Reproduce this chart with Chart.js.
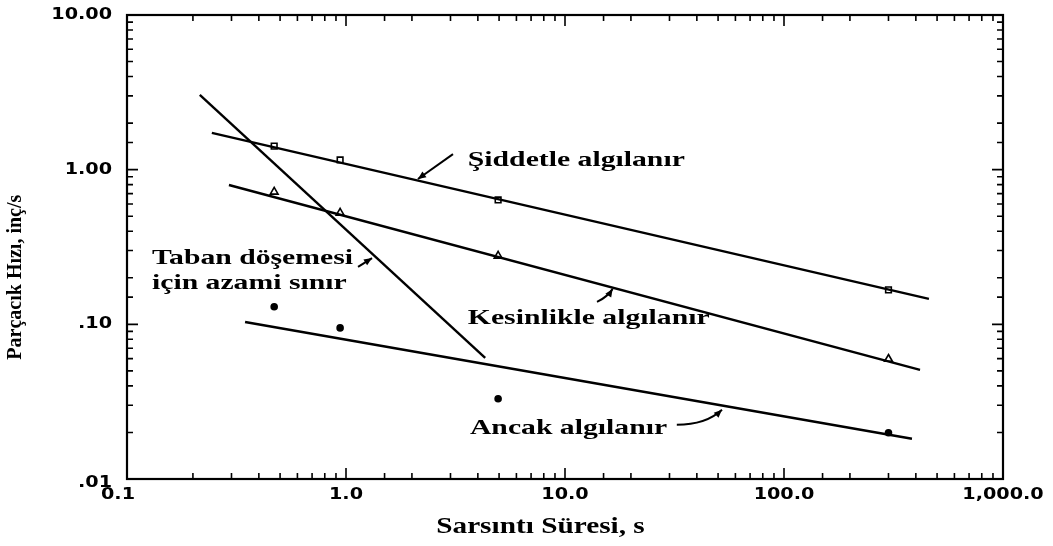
<!DOCTYPE html>
<html>
<head>
<meta charset="utf-8">
<script src="https://cdn.jsdelivr.net/npm/chart.js@4/dist/chart.umd.min.js"></script>
<style>
    html, body { margin: 0; padding: 0; background: #fff; }
    #wrap { width: 1053px; height: 546px; }
</style>
</head>
<body>
<div id="wrap"><canvas id="vibChart" width="1053" height="546"></canvas></div>
<script>
// axis ticks
const xMajor = [0.1, 1, 10, 100, 1000];
const xTickLabels = ['0.1', '1.0', '10.0', '100.0', '1,000.0'];
const yMajor = [0.01, 0.1, 1, 10];
const yTickLabels = ['.01', '.10', '1.00', '10.00'];

// measured points (duration s, velocity in/s)
const durations = [0.47, 0.94, 4.95, 300];
const severeVel = [1.42, 1.155, 0.637, 0.167];
const definiteVel = [0.718, 0.525, 0.277, 0.0597];
const barelyVel = [0.130, 0.0948, 0.033, 0.0199];

// fitted lines (end points)
const severeLineX = [0.244, 459];
const severeLineY = [1.73, 0.146];
const definiteLineX = [0.292, 418];
const definiteLineY = [0.796, 0.0507];
const barelyLineX = [0.346, 384];
const barelyLineY = [0.1035, 0.0182];
const floorLimitX = [0.215, 4.32];
const floorLimitY = [3.04, 0.0607];

// curve labels, anchored in data units: [x, y, text]
const curveLabels = [
    [3.6, 1.155, 'Şiddetle algılanır'],
    [3.6, 0.110, 'Kesinlikle algılanır'],
    [3.68, 0.0214, 'Ancak algılanır'],
    [0.130, 0.268, 'Taban döşemesi'],
    [0.130, 0.185, 'için azami sınır']
];
// leader arrows, data units, last point is the tip
const leaders = [
    [[3.08, 1.26], [2.13, 0.871]],
    [[14.0, 0.1396], [15.6, 0.150], [16.5, 0.1695]],
    [[32.4, 0.0224], [44.0, 0.0224], [52.1, 0.028]],
    [[1.135, 0.235], [1.315, 0.268]]
];

function pts(xs, ys) {
    return xs.map((x, i) => ({ x: x, y: ys[i] }));
}

function lineSet(xs, ys) {
    return {
        data: pts(xs, ys),
        showLine: true,
        borderColor: '#000',
        borderWidth: 2.4,
        pointRadius: 0,
        fill: false
    };
}

function markerSet(ys, style, radius, fillCol) {
    return {
        data: pts(durations, ys),
        showLine: false,
        pointStyle: style,
        pointRadius: radius,
        backgroundColor: fillCol,
        borderColor: '#000',
        borderWidth: 1.6
    };
}

function isMajor(v) {
    const l = Math.log10(v);
    return Math.abs(l - Math.round(l)) < 1e-6;
}

// the scanned lettering is wider than the installed fonts, so stretch it
function wideText(ctx, text, x, y, sx, align) {
    ctx.save();
    ctx.translate(x, y);
    ctx.scale(sx, 1);
    ctx.textAlign = align;
    ctx.fillText(text, 0, 0);
    ctx.restore();
}

function drawArrow(ctx, p) {
    ctx.beginPath();
    ctx.moveTo(p[0].x, p[0].y);
    if (p.length === 3) {
        ctx.quadraticCurveTo(p[1].x, p[1].y, p[2].x, p[2].y);
    } else {
        ctx.lineTo(p[1].x, p[1].y);
    }
    ctx.stroke();
    const a = p[p.length - 1];
    const b = p[p.length - 2];
    const ang = Math.atan2(a.y - b.y, a.x - b.x);
    const len = 8, wid = 3.5;
    ctx.beginPath();
    ctx.moveTo(a.x, a.y);
    ctx.lineTo(a.x - len * Math.cos(ang) + wid * Math.sin(ang), a.y - len * Math.sin(ang) - wid * Math.cos(ang));
    ctx.lineTo(a.x - len * Math.cos(ang) - wid * Math.sin(ang), a.y - len * Math.sin(ang) + wid * Math.cos(ang));
    ctx.closePath();
    ctx.fill();
}

// frame with inward ticks on all four sides, tick labels, titles and curve labels
const framePlugin = {
    id: 'frame',
    afterDraw(chart) {
        const ctx = chart.ctx;
        const area = chart.chartArea;
        const xs = chart.scales.x;
        const ys = chart.scales.y;
        ctx.save();
        ctx.strokeStyle = '#000';
        ctx.fillStyle = '#000';
        ctx.lineWidth = 2.2;
        ctx.strokeRect(area.left, area.top, area.right - area.left, area.bottom - area.top);

        ctx.lineWidth = 1.6;
        ctx.beginPath();
        xs.ticks.forEach(t => {
            const px = xs.getPixelForValue(t.value);
            const len = isMajor(t.value) ? 11 : 6;
            ctx.moveTo(px, area.bottom);
            ctx.lineTo(px, area.bottom - len);
            ctx.moveTo(px, area.top);
            ctx.lineTo(px, area.top + len);
        });
        ys.ticks.forEach(t => {
            const py = ys.getPixelForValue(t.value);
            const len = isMajor(t.value) ? 11 : 6;
            ctx.moveTo(area.left, py);
            ctx.lineTo(area.left + len, py);
            ctx.moveTo(area.right, py);
            ctx.lineTo(area.right - len, py);
        });
        ctx.stroke();

        // tick labels
        ctx.font = 'bold 16px "DejaVu Sans"';
        ctx.textBaseline = 'middle';
        xMajor.forEach((v, i) => {
            const dx = i === 0 ? -9 : 0;
            wideText(ctx, xTickLabels[i], xs.getPixelForValue(v) + dx, area.bottom + 16, 1.2, 'center');
        });
        yMajor.forEach((v, i) => {
            const dy = i === 0 ? 4 : 0;
            wideText(ctx, yTickLabels[i], area.left - 15, ys.getPixelForValue(v) + dy, 1.2, 'right');
        });

        // curve labels
        ctx.font = 'bold 22px "Liberation Serif"';
        curveLabels.forEach(l => {
            wideText(ctx, l[2], xs.getPixelForValue(l[0]), ys.getPixelForValue(l[1]), 1.35, 'left');
        });

        ctx.lineWidth = 2;
        leaders.forEach(ld => {
            drawArrow(ctx, ld.map(q => ({ x: xs.getPixelForValue(q[0]), y: ys.getPixelForValue(q[1]) })));
        });

        // axis titles
        ctx.font = 'bold 24px "Liberation Serif"';
        wideText(ctx, 'Sarsıntı Süresi, s', area.left + (area.right - area.left) * 0.472, 527, 1.22, 'center');
        ctx.translate(16, area.top + (area.bottom - area.top) * 0.565);
        ctx.rotate(-Math.PI / 2);
        ctx.font = 'bold 20px "Liberation Serif"';
        ctx.textAlign = 'center';
        ctx.fillText('Parçacık Hızı, inç/s', 0, 0);
        ctx.restore();
    }
};

const ctx = document.getElementById('vibChart').getContext('2d');
new Chart(ctx, {
    type: 'scatter',
    data: {
        datasets: [
            lineSet(severeLineX, severeLineY),
            lineSet(definiteLineX, definiteLineY),
            lineSet(barelyLineX, barelyLineY),
            lineSet(floorLimitX, floorLimitY),
            markerSet(severeVel, 'rect', 4, '#fff'),
            markerSet(definiteVel, 'triangle', 4.5, '#fff'),
            markerSet(barelyVel, 'circle', 3, '#000')
        ]
    },
    options: {
        responsive: false,
        animation: false,
        events: [],
        layout: { padding: { left: 0, top: 15, right: 50, bottom: 0 } },
        plugins: {
            legend: { display: false },
            tooltip: { enabled: false }
        },
        scales: {
            x: {
                type: 'logarithmic',
                min: 0.1,
                max: 1000,
                grid: { display: false },
                border: { display: false },
                ticks: { display: false, autoSkip: false },
                afterFit: s => {
                    s.height = 67;
                    s.paddingLeft = 0;
                    s.paddingRight = 0;
                }
            },
            y: {
                type: 'logarithmic',
                min: 0.01,
                max: 10,
                grid: { display: false },
                border: { display: false },
                ticks: { display: false, autoSkip: false },
                afterFit: s => {
                    s.width = 127;
                    s.paddingTop = 0;
                    s.paddingBottom = 0;
                }
            }
        }
    },
    plugins: [framePlugin]
});
</script>
</body>
</html>
